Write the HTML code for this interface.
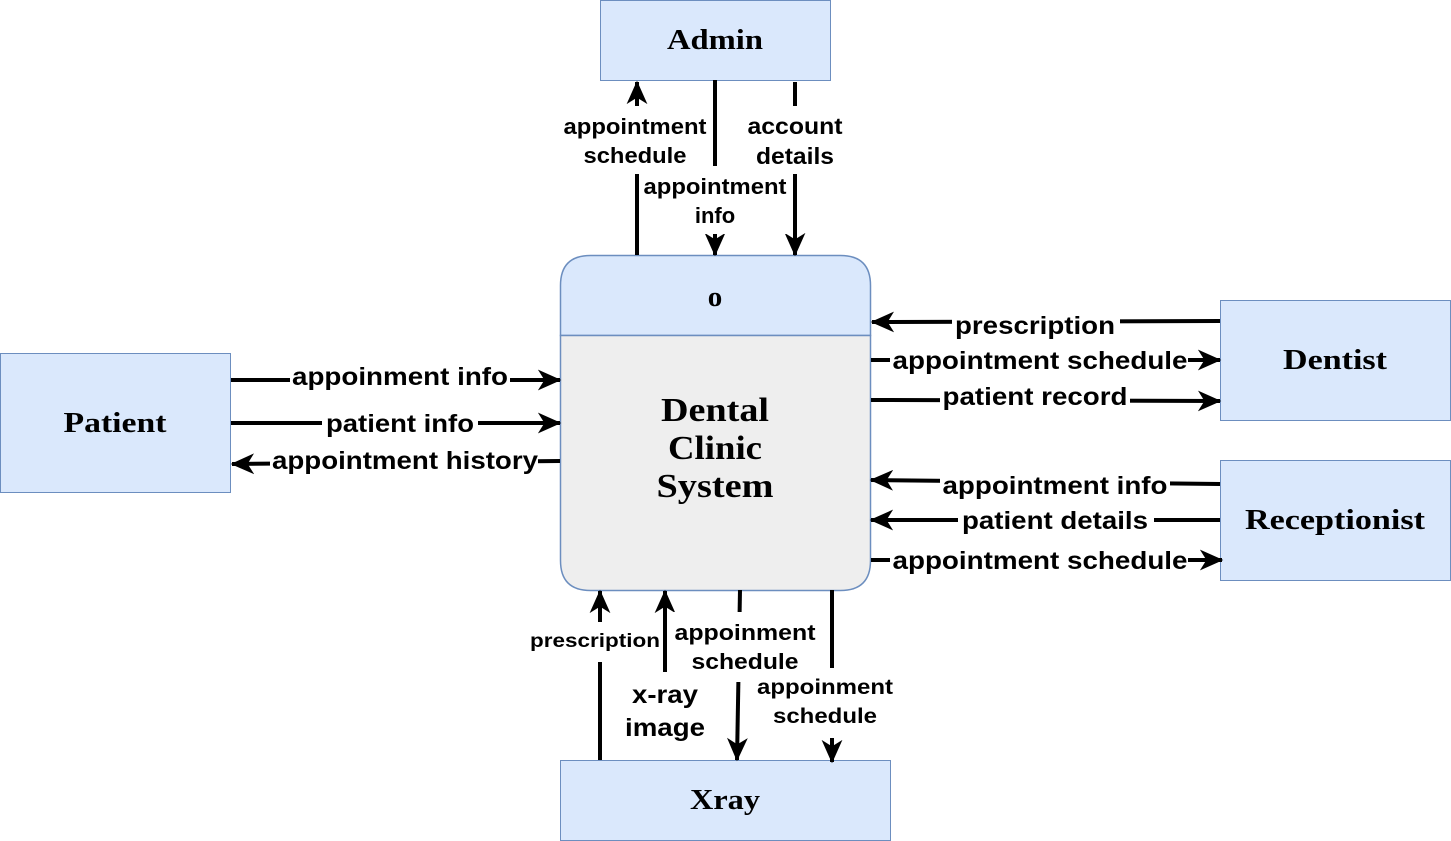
<!DOCTYPE html>
<html><head><meta charset="utf-8"><style>
html,body{margin:0;padding:0;background:#fff}
svg{display:block}
.l{font-family:"Liberation Sans",Arial,sans-serif;font-weight:bold;fill:#000}
.s{font-family:"Liberation Serif","Times New Roman",serif;font-weight:bold;fill:#000}
</style></head><body>
<svg width="1451" height="841" viewBox="0 0 1451 841" xmlns="http://www.w3.org/2000/svg">
<defs>
<marker id="a" viewBox="0 0 20 20" refX="17" refY="10" markerWidth="26" markerHeight="26" markerUnits="userSpaceOnUse" orient="auto">
<path d="M0,2 L18,10 L0,18 L5,10 Z" fill="#000"/>
</marker>
</defs>
<rect x="600.5" y="0.5" width="230" height="80" fill="#dae8fc" stroke="#6c8ebf"/>
<text x="715" y="49" class="s" font-size="29" text-anchor="middle" textLength="96" lengthAdjust="spacingAndGlyphs">Admin</text>
<rect x="0.5" y="353.5" width="230" height="139" fill="#dae8fc" stroke="#6c8ebf"/>
<text x="115" y="432" class="s" font-size="29" text-anchor="middle" textLength="103" lengthAdjust="spacingAndGlyphs">Patient</text>
<rect x="1220.5" y="300.5" width="230" height="120" fill="#dae8fc" stroke="#6c8ebf"/>
<text x="1335" y="369" class="s" font-size="29" text-anchor="middle" textLength="104" lengthAdjust="spacingAndGlyphs">Dentist</text>
<rect x="1220.5" y="460.5" width="230" height="120" fill="#dae8fc" stroke="#6c8ebf"/>
<text x="1335" y="529" class="s" font-size="29" text-anchor="middle" textLength="180" lengthAdjust="spacingAndGlyphs">Receptionist</text>
<rect x="560.5" y="760.5" width="330" height="80" fill="#dae8fc" stroke="#6c8ebf"/>
<text x="725" y="809" class="s" font-size="29" text-anchor="middle" textLength="70" lengthAdjust="spacingAndGlyphs">Xray</text>
<path d="M590.5,255.5 H840.5 Q870.5,255.5 870.5,285.5 V335.5 H560.5 V285.5 Q560.5,255.5 590.5,255.5 Z" fill="#dae8fc" stroke="#6c8ebf" stroke-width="1.5"/>
<path d="M560.5,335.5 H870.5 V560.5 Q870.5,590.5 840.5,590.5 H590.5 Q560.5,590.5 560.5,560.5 Z" fill="#eeeeee" stroke="#6c8ebf" stroke-width="1.5"/>
<text x="715" y="306" class="s" font-size="29" text-anchor="middle">o</text>
<text x="715" y="421" class="s" font-size="34" text-anchor="middle" textLength="108" lengthAdjust="spacingAndGlyphs">Dental</text>
<text x="715" y="459" class="s" font-size="34" text-anchor="middle" textLength="94" lengthAdjust="spacingAndGlyphs">Clinic</text>
<text x="715" y="497" class="s" font-size="34" text-anchor="middle" textLength="117" lengthAdjust="spacingAndGlyphs">System</text>

<g stroke="#000" stroke-width="4" fill="none">
<line x1="637" y1="255" x2="637" y2="82" marker-end="url(#a)"/>
<line x1="715" y1="80" x2="715" y2="255" marker-end="url(#a)"/>
<line x1="795" y1="82" x2="795" y2="255" marker-end="url(#a)"/>
<line x1="231" y1="380" x2="560" y2="380" marker-end="url(#a)"/>
<line x1="231" y1="423" x2="560" y2="423" marker-end="url(#a)"/>
<line x1="560" y1="461" x2="232" y2="464" marker-end="url(#a)"/>
<line x1="1220" y1="321" x2="872" y2="322" marker-end="url(#a)"/>
<line x1="871" y1="360" x2="1220" y2="360" marker-end="url(#a)"/>
<line x1="871" y1="400" x2="1220" y2="401" marker-end="url(#a)"/>
<line x1="1220" y1="484" x2="871" y2="480" marker-end="url(#a)"/>
<line x1="1220" y1="520" x2="871" y2="520" marker-end="url(#a)"/>
<line x1="871" y1="560" x2="1222" y2="560" marker-end="url(#a)"/>
<line x1="600" y1="760" x2="600" y2="591" marker-end="url(#a)"/>
<line x1="665" y1="760" x2="665" y2="591" marker-end="url(#a)"/>
<line x1="740" y1="590" x2="737" y2="760" marker-end="url(#a)"/>
<line x1="832" y1="590" x2="832" y2="762" marker-end="url(#a)"/>
</g>

<g fill="#fff">
<rect x="560" y="106" width="152" height="68"/>
<rect x="642" y="166" width="148" height="68"/>
<rect x="745" y="106" width="102" height="68"/>
<rect x="290" y="364" width="220" height="30"/>
<rect x="322" y="408" width="156" height="30"/>
<rect x="270" y="446" width="268" height="30"/>
<rect x="952" y="310" width="168" height="32"/>
<rect x="890" y="345" width="298" height="30"/>
<rect x="940" y="382" width="190" height="30"/>
<rect x="940" y="470" width="230" height="30"/>
<rect x="958" y="505" width="196" height="30"/>
<rect x="890" y="545" width="298" height="30"/>
<rect x="528" y="622" width="134" height="40"/>
<rect x="622" y="672" width="88" height="88"/>
<rect x="672" y="612" width="148" height="70"/>
<rect x="756" y="668" width="140" height="70"/>
</g>

<g class="l">
<text x="635" y="134" font-size="22" text-anchor="middle" textLength="143" lengthAdjust="spacingAndGlyphs">appointment</text>
<text x="635" y="163" font-size="22" text-anchor="middle" textLength="103" lengthAdjust="spacingAndGlyphs">schedule</text>
<text x="715" y="194" font-size="22" text-anchor="middle" textLength="143" lengthAdjust="spacingAndGlyphs">appointment</text>
<text x="715" y="223" font-size="22" text-anchor="middle">info</text>
<text x="795" y="134" font-size="23" text-anchor="middle" textLength="95" lengthAdjust="spacingAndGlyphs">account</text>
<text x="795" y="164" font-size="23" text-anchor="middle" textLength="78" lengthAdjust="spacingAndGlyphs">details</text>
<text x="400" y="385" font-size="25" text-anchor="middle" textLength="216" lengthAdjust="spacingAndGlyphs">appoinment info</text>
<text x="400" y="432" font-size="25" text-anchor="middle" textLength="148" lengthAdjust="spacingAndGlyphs">patient info</text>
<text x="405" y="469" font-size="25" text-anchor="middle" textLength="266" lengthAdjust="spacingAndGlyphs">appointment history</text>
<text x="1035" y="334" font-size="25" text-anchor="middle" textLength="160" lengthAdjust="spacingAndGlyphs">prescription</text>
<text x="1040" y="369" font-size="25" text-anchor="middle" textLength="295" lengthAdjust="spacingAndGlyphs">appointment schedule</text>
<text x="1035" y="405" font-size="25" text-anchor="middle" textLength="185" lengthAdjust="spacingAndGlyphs">patient record</text>
<text x="1055" y="494" font-size="25" text-anchor="middle" textLength="225" lengthAdjust="spacingAndGlyphs">appointment info</text>
<text x="1055" y="529" font-size="25" text-anchor="middle" textLength="186" lengthAdjust="spacingAndGlyphs">patient details</text>
<text x="1040" y="569" font-size="25" text-anchor="middle" textLength="295" lengthAdjust="spacingAndGlyphs">appointment schedule</text>
<text x="595" y="647" font-size="19" text-anchor="middle" textLength="130" lengthAdjust="spacingAndGlyphs">prescription</text>
<text x="665" y="703" font-size="25" text-anchor="middle" textLength="66" lengthAdjust="spacingAndGlyphs">x-ray</text>
<text x="665" y="736" font-size="25" text-anchor="middle" textLength="80" lengthAdjust="spacingAndGlyphs">image</text>
<text x="745" y="640" font-size="22" text-anchor="middle" textLength="141" lengthAdjust="spacingAndGlyphs">appoinment</text>
<text x="745" y="669" font-size="22" text-anchor="middle" textLength="107" lengthAdjust="spacingAndGlyphs">schedule</text>
<text x="825" y="694" font-size="21" text-anchor="middle" textLength="136" lengthAdjust="spacingAndGlyphs">appoinment</text>
<text x="825" y="723" font-size="21" text-anchor="middle" textLength="104" lengthAdjust="spacingAndGlyphs">schedule</text>
</g>
</svg>
</body></html>
